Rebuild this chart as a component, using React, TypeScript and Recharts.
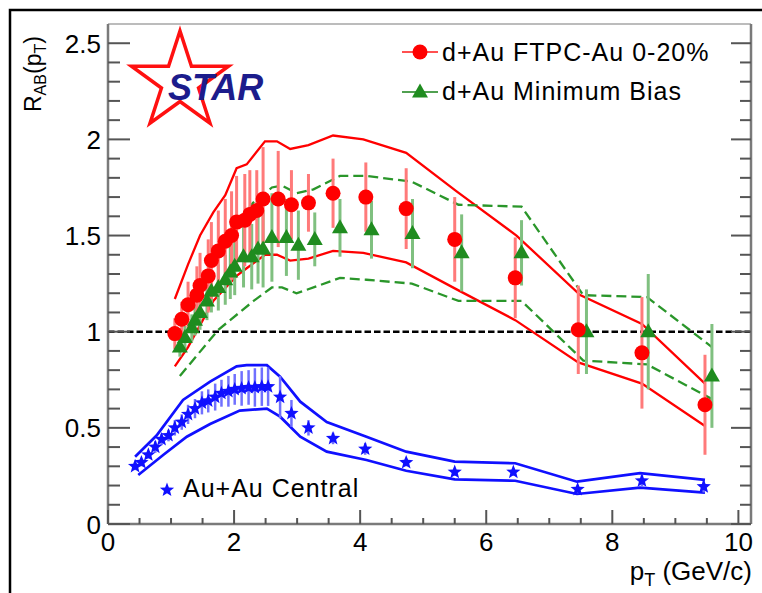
import React from "react";
import {
  ComposedChart,
  Line,
  Scatter,
  XAxis,
  YAxis,
  ReferenceLine,
  ErrorBar,
} from "recharts";

// ---------- data ----------
const redPt = [1.06, 1.17, 1.27, 1.41, 1.46, 1.59, 1.64, 1.75, 1.86, 1.96, 2.04, 2.17, 2.25, 2.36, 2.46, 2.7, 2.91, 3.18, 3.57, 4.09, 4.73, 5.5, 6.46, 7.46, 8.47, 9.47];
const redR = [0.99, 1.065, 1.14, 1.19, 1.24, 1.29, 1.37, 1.42, 1.47, 1.5, 1.57, 1.58, 1.61, 1.63, 1.69, 1.69, 1.66, 1.67, 1.72, 1.7, 1.64, 1.48, 1.28, 1.01, 0.89, 0.62];
const redErr = [0.08, 0.09, 0.12, 0.15, 0.17, 0.19, 0.2, 0.21, 0.22, 0.23, 0.24, 0.24, 0.23, 0.21, 0.27, 0.25, 0.18, 0.15, 0.18, 0.18, 0.21, 0.22, 0.21, 0.23, 0.29, 0.26];

const greenPt = [1.14, 1.22, 1.33, 1.38, 1.46, 1.57, 1.64, 1.75, 1.86, 1.94, 2.01, 2.15, 2.28, 2.38, 2.46, 2.6, 2.83, 3.02, 3.28, 3.68, 4.18, 4.83, 5.61, 6.56, 7.59, 8.57, 9.58];
const greenR = [0.92, 0.97, 1.02, 1.06, 1.1, 1.16, 1.21, 1.23, 1.27, 1.31, 1.34, 1.39, 1.39, 1.43, 1.43, 1.49, 1.49, 1.45, 1.48, 1.54, 1.53, 1.51, 1.41, 1.41, 1.0, 1.0, 0.77];
const greenErr = [0.05, 0.06, 0.07, 0.08, 0.09, 0.1, 0.11, 0.12, 0.13, 0.14, 0.15, 0.16, 0.17, 0.18, 0.2, 0.23, 0.2, 0.18, 0.14, 0.15, 0.15, 0.18, 0.2, 0.17, 0.22, 0.3, 0.27];

const bluePt = [0.43, 0.53, 0.64, 0.75, 0.85, 0.96, 1.06, 1.17, 1.27, 1.38, 1.49, 1.59, 1.7, 1.8, 1.91, 2.01, 2.12, 2.23, 2.33, 2.44, 2.54, 2.73, 2.91, 3.18, 3.57, 4.08, 4.73, 5.5, 6.43, 7.45, 8.47, 9.45];
const blueR = [0.3, 0.32, 0.36, 0.4, 0.44, 0.46, 0.5, 0.53, 0.57, 0.6, 0.63, 0.64, 0.66, 0.68, 0.69, 0.7, 0.705, 0.71, 0.71, 0.714, 0.714, 0.66, 0.575, 0.5, 0.445, 0.39, 0.32, 0.27, 0.27, 0.18, 0.225, 0.194];
const blueErr = [0.02, 0.02, 0.02, 0.03, 0.03, 0.03, 0.04, 0.04, 0.05, 0.05, 0.06, 0.06, 0.07, 0.07, 0.08, 0.08, 0.09, 0.09, 0.1, 0.1, 0.1, 0.11, 0.07, 0.04, 0.03, 0.03, 0.02, 0.02, 0.02, 0.02, 0.03, 0.03];

const redUpPt = [1.06, 1.27, 1.46, 1.67, 1.86, 2.04, 2.2, 2.49, 2.68, 2.89, 3.18, 3.57, 4.05, 4.73, 5.53, 6.48, 7.49, 8.47, 9.47];
const redUpV = [1.17, 1.35, 1.5, 1.62, 1.71, 1.85, 1.87, 1.99, 1.99, 1.95, 1.97, 2.02, 2.0, 1.93, 1.73, 1.5, 1.19, 1.04, 0.73];
const redLoPt = [1.06, 1.27, 1.67, 2.04, 2.2, 2.49, 2.68, 2.89, 3.18, 3.57, 4.05, 4.73, 5.53, 6.46, 7.46, 8.47, 9.47];
const redLoV = [0.82, 0.92, 1.16, 1.29, 1.33, 1.4, 1.4, 1.37, 1.38, 1.42, 1.41, 1.36, 1.22, 1.06, 0.84, 0.73, 0.51];

const greenUpPt = [1.14, 1.67, 1.99, 2.3, 2.6, 2.76, 2.99, 3.26, 3.68, 4.1, 4.82, 5.56, 6.56, 7.54, 8.55, 9.58];
const greenUpV = [1.03, 1.37, 1.53, 1.67, 1.75, 1.76, 1.72, 1.74, 1.81, 1.81, 1.78, 1.66, 1.65, 1.19, 1.18, 0.92];
const greenLoPt = [1.14, 1.75, 2.31, 2.6, 2.76, 2.99, 3.26, 3.68, 4.1, 4.82, 5.56, 6.56, 7.54, 8.55, 9.58];
const greenLoV = [0.77, 1.01, 1.16, 1.23, 1.23, 1.2, 1.23, 1.28, 1.27, 1.25, 1.16, 1.16, 0.85, 0.83, 0.65];

const blueUpPt = [0.43, 0.77, 1.19, 1.62, 2.04, 2.2, 2.52, 2.73, 3.05, 3.47, 4.1, 4.73, 5.5, 6.46, 7.44, 8.44, 9.47];
const blueUpV = [0.35, 0.46, 0.645, 0.74, 0.82, 0.826, 0.826, 0.766, 0.636, 0.53, 0.454, 0.376, 0.324, 0.316, 0.22, 0.264, 0.229];
const blueLoPt = [0.48, 0.88, 1.25, 1.62, 2.09, 2.52, 2.73, 3.05, 3.47, 4.1, 4.73, 5.5, 6.46, 7.44, 8.44, 9.47];
const blueLoV = [0.255, 0.36, 0.454, 0.52, 0.59, 0.6, 0.558, 0.454, 0.376, 0.333, 0.277, 0.232, 0.225, 0.156, 0.189, 0.163];

const xTicks = [0, 0.5, 1, 1.5, 2, 2.5, 3, 3.5, 4, 4.5, 5, 5.5, 6, 6.5, 7, 7.5, 8, 8.5, 9, 9.5, 10];
const xLabels = [0, 2, 4, 6, 8, 10];
const yTicks = [0, 0.1, 0.2, 0.3, 0.4, 0.5, 0.6, 0.7, 0.8, 0.9, 1, 1.1, 1.2, 1.3, 1.4, 1.5, 1.6, 1.7, 1.8, 1.9, 2, 2.1, 2.2, 2.3, 2.4, 2.5];
const yLabels = [0, 0.5, 1, 1.5, 2, 2.5];

const legendRed = "d+Au FTPC-Au 0-20%";
const legendGreen = "d+Au Minimum Bias";
const legendBlue = "Au+Au Central";

// ---------- helpers ----------
const pts = (x: number[], y: number[], e?: number[]) =>
  x.map((v, i) => ({ x: v, y: y[i], e: e ? e[i] : 0 }));

const FONT = "'Liberation Sans', Arial, Helvetica, sans-serif";
const AXIS = "#7a7a7a";
const RED = "#ff0000";
const GREEN = "#2a962a";
const BLUE = "#1010ff";

const isIn = (arr: number[], v: number) => arr.some((a) => Math.abs(a - v) < 1e-6);

const starPath = (cx: number, cy: number, R: number, r: number) => {
  let d = "";
  for (let i = 0; i < 10; i++) {
    const rad = i % 2 === 0 ? R : r;
    const a = -Math.PI / 2 + (i * Math.PI) / 5;
    d += (i === 0 ? "M" : "L") + (cx + rad * Math.cos(a)).toFixed(2) + " " + (cy + rad * Math.sin(a)).toFixed(2);
  }
  return d + "Z";
};

const XTick = (props: any) => {
  const { x, y, payload } = props;
  const v = payload.value;
  const major = isIn(xLabels, v);
  return (
    <g>
      <line x1={x} x2={x} y1={y} y2={y - (major ? 14 : 6)} stroke="#555" strokeWidth={2} />
      {major && (
        <text x={x} y={y + 27} textAnchor="middle" fontSize={26} fontFamily={FONT} fill="#000">
          {v}
        </text>
      )}
    </g>
  );
};

const YTickLeft = (props: any) => {
  const { x, y, payload } = props;
  const v = payload.value;
  const major = isIn(yLabels, v);
  return (
    <g>
      <line x1={x} x2={x + (major ? 22 : 12)} y1={y} y2={y} stroke="#555" strokeWidth={2} />
      {major && (
        <text x={x - 7} y={y + 9.5} textAnchor="end" fontSize={26} fontFamily={FONT} fill="#000">
          {v}
        </text>
      )}
    </g>
  );
};

const YTickRight = (props: any) => {
  const { x, y, payload } = props;
  const major = isIn(yLabels, payload.value);
  return <line x1={x} x2={x - (major ? 20 : 11)} y1={y} y2={y} stroke="#555" strokeWidth={2} />;
};

const Circle = (p: any) => <circle cx={p.cx} cy={p.cy} r={7.5} fill={RED} />;
const Tri = (p: any) => (
  <path d={`M${p.cx - 8} ${p.cy + 5.5} L${p.cx + 8} ${p.cy + 5.5} L${p.cx} ${p.cy - 8.5} Z`} fill="#1f8c1f" />
);
const Star = (p: any) => <path d={starPath(p.cx, p.cy, 7.5, 3.2)} fill={BLUE} />;

export default function App() {
  return (
    <div style={{ position: "absolute", left: 0, top: 0, width: 762, height: 593, background: "#fff" }}>
      <ComposedChart width={762} height={593} margin={{ top: 24, right: 0, bottom: 0, left: 0 }}>
        <XAxis
          type="number"
          dataKey="x"
          domain={[0, 10.2]}
          ticks={xTicks}
          interval={0}
          height={69}
          tickSize={0}
          tickMargin={0}
          tickLine={false}
          axisLine={{ stroke: AXIS, strokeWidth: 2.5 }}
          tick={<XTick />}
          allowDataOverflow
        />
        <YAxis
          type="number"
          dataKey="y"
          domain={[0, 2.6]}
          ticks={yTicks}
          interval={0}
          width={108}
          tickSize={0}
          tickMargin={0}
          tickLine={false}
          axisLine={{ stroke: AXIS, strokeWidth: 2.5 }}
          tick={<YTickLeft />}
          allowDataOverflow
        />
        <YAxis
          yAxisId="right"
          orientation="right"
          type="number"
          domain={[0, 2.6]}
          ticks={yTicks}
          interval={0}
          width={11}
          tickSize={0}
          tickMargin={0}
          tickLine={false}
          axisLine={{ stroke: AXIS, strokeWidth: 2.5 }}
          tick={<YTickRight />}
          allowDataOverflow
        />
        <ReferenceLine y={2.6} stroke={AXIS} strokeWidth={1.2} ifOverflow="extendDomain" />
        <ReferenceLine y={1} stroke="#000" strokeWidth={2.5} strokeDasharray="6.5 3" />

        <Line data={pts(redUpPt, redUpV)} dataKey="y" type="linear" stroke={RED} strokeWidth={2.3} dot={false} isAnimationActive={false} />
        <Line data={pts(redLoPt, redLoV)} dataKey="y" type="linear" stroke={RED} strokeWidth={2.3} dot={false} isAnimationActive={false} />
        <Line data={pts(greenUpPt, greenUpV)} dataKey="y" type="linear" stroke={GREEN} strokeWidth={2.3} strokeDasharray="10 5" dot={false} isAnimationActive={false} />
        <Line data={pts(greenLoPt, greenLoV)} dataKey="y" type="linear" stroke={GREEN} strokeWidth={2.3} strokeDasharray="10 5" dot={false} isAnimationActive={false} />
        <Line data={pts(blueUpPt, blueUpV)} dataKey="y" type="linear" stroke={BLUE} strokeWidth={2.7} dot={false} isAnimationActive={false} />
        <Line data={pts(blueLoPt, blueLoV)} dataKey="y" type="linear" stroke={BLUE} strokeWidth={2.7} dot={false} isAnimationActive={false} />

        <Scatter data={pts(bluePt, blueR, blueErr)} dataKey="y" shape={<Star />} isAnimationActive={false}>
          <ErrorBar dataKey="e" direction="y" width={0} stroke="#7070ff" strokeWidth={2.5} />
        </Scatter>
        <Scatter data={pts(greenPt, greenR, greenErr)} dataKey="y" shape={<Tri />} isAnimationActive={false}>
          <ErrorBar dataKey="e" direction="y" width={0} stroke="#80c080" strokeWidth={3} />
        </Scatter>
        <Scatter data={pts(redPt, redR, redErr)} dataKey="y" shape={<Circle />} isAnimationActive={false}>
          <ErrorBar dataKey="e" direction="y" width={0} stroke="#ff7a7a" strokeWidth={3} />
        </Scatter>
      </ComposedChart>

      <svg width={762} height={593} style={{ position: "absolute", left: 0, top: 0, pointerEvents: "none" }}>
        <path d="M10 593 L10 10 L762 10" stroke="#000" strokeWidth={2.5} fill="none" />
        {/* STAR logo */}
        <path d={starPath(180, 82, 51, 19.5)} stroke="#ff1010" strokeWidth={3.5} fill="none" strokeLinejoin="miter" />
        <text x={168} y={100} fontSize={36} fontWeight="bold" fontStyle="italic" fontFamily={FONT} fill="#1c1c8c">
          STAR
        </text>
        {/* y title */}
        <text transform="translate(41,112) rotate(-90)" fontSize={23} fontFamily={FONT} fill="#000">
          R<tspan fontSize={16} dy={5}>AB</tspan>
          <tspan dy={-5}>(p</tspan>
          <tspan fontSize={16} dy={5}>T</tspan>
          <tspan dy={-5}>)</tspan>
        </text>
        {/* x title */}
        <text x={752} y={580} textAnchor="end" fontSize={26} fontFamily={FONT} fill="#000">
          p<tspan fontSize={18} dy={6}>T</tspan>
          <tspan dy={-6}> (GeV/c)</tspan>
        </text>
        {/* legends */}
        <line x1={402} x2={438} y1={52} y2={52} stroke="#ff5050" strokeWidth={2} />
        <circle cx={420} cy={52} r={7.5} fill={RED} />
        <text x={442} y={61} fontSize={25} letterSpacing={1} fontFamily={FONT} fill="#000">
          {legendRed}
        </text>
        <line x1={402} x2={438} y1={92} y2={92} stroke="#50a050" strokeWidth={2} />
        <path d="M412 97.5 L428 97.5 L420 83.5 Z" fill="#1f8c1f" />
        <text x={442} y={100} fontSize={25} letterSpacing={1} fontFamily={FONT} fill="#000">
          {legendGreen}
        </text>
        <path d={starPath(167, 490, 7.5, 3.2)} fill={BLUE} />
        <text x={183} y={497} fontSize={25} letterSpacing={1} fontFamily={FONT} fill="#000">
          {legendBlue}
        </text>
      </svg>
    </div>
  );
}
